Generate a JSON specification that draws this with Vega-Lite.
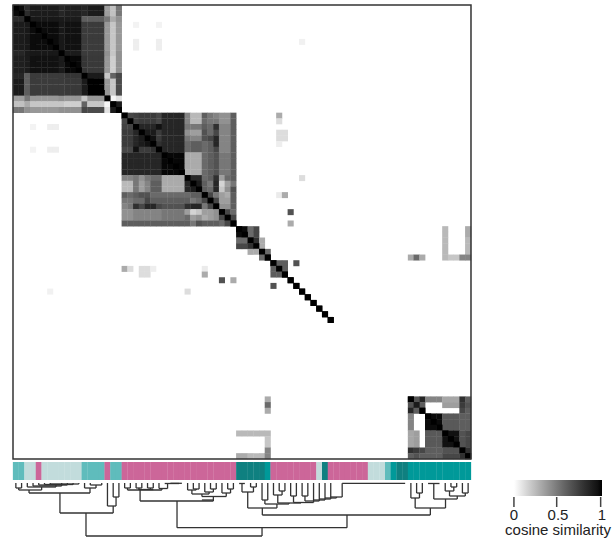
{"$schema":"https://vega.github.io/schema/vega-lite/v6.json","width":616,"height":540,"padding":0,"autosize":"none","background":"white","config":{"view":{"stroke":null}},"resolve":{"scale":{"y":"independent"}},
"datasets":{"heat":[
{"r":0,"c":0,"v":1},{"r":0,"c":1,"v":0.97},{"r":0,"c":2,"v":0.82},{"r":0,"c":3,"v":0.9},{"r":0,"c":4,"v":0.9},{"r":0,"c":5,"v":0.9},{"r":0,"c":6,"v":0.9},{"r":0,"c":7,"v":0.9},{"r":0,"c":8,"v":0.85},{"r":0,"c":9,"v":0.88},{"r":0,"c":10,"v":0.88},{"r":0,"c":11,"v":0.88},{"r":0,"c":12,"v":0.85},{"r":0,"c":13,"v":0.9},{"r":0,"c":14,"v":0.9},{"r":0,"c":15,"v":0.9},{"r":0,"c":16,"v":0.35},{"r":0,"c":17,"v":0.22},{"r":0,"c":18,"v":0.5},
{"r":1,"c":1,"v":1},{"r":1,"c":2,"v":0.82},{"r":1,"c":3,"v":0.9},{"r":1,"c":4,"v":0.9},{"r":1,"c":5,"v":0.9},{"r":1,"c":6,"v":0.9},{"r":1,"c":7,"v":0.9},{"r":1,"c":8,"v":0.85},{"r":1,"c":9,"v":0.88},{"r":1,"c":10,"v":0.88},{"r":1,"c":11,"v":0.88},{"r":1,"c":12,"v":0.85},{"r":1,"c":13,"v":0.9},{"r":1,"c":14,"v":0.9},{"r":1,"c":15,"v":0.9},{"r":1,"c":16,"v":0.35},{"r":1,"c":17,"v":0.22},{"r":1,"c":18,"v":0.5},
{"r":2,"c":2,"v":1},{"r":2,"c":3,"v":0.92},{"r":2,"c":4,"v":0.92},{"r":2,"c":5,"v":0.92},{"r":2,"c":6,"v":0.92},{"r":2,"c":7,"v":0.92},{"r":2,"c":8,"v":0.9},{"r":2,"c":9,"v":0.9},{"r":2,"c":10,"v":0.9},{"r":2,"c":11,"v":0.9},{"r":2,"c":12,"v":0.6},{"r":2,"c":13,"v":0.6},{"r":2,"c":14,"v":0.6},{"r":2,"c":15,"v":0.6},{"r":2,"c":16,"v":0.5},{"r":2,"c":17,"v":0.3},{"r":2,"c":18,"v":0.4},
{"r":3,"c":3,"v":1},{"r":3,"c":4,"v":0.97},{"r":3,"c":5,"v":0.97},{"r":3,"c":6,"v":0.97},{"r":3,"c":7,"v":0.97},{"r":3,"c":8,"v":0.92},{"r":3,"c":9,"v":0.95},{"r":3,"c":10,"v":0.95},{"r":3,"c":11,"v":0.95},{"r":3,"c":12,"v":0.75},{"r":3,"c":13,"v":0.75},{"r":3,"c":14,"v":0.75},{"r":3,"c":15,"v":0.75},{"r":3,"c":16,"v":0.37},{"r":3,"c":17,"v":0.2},{"r":3,"c":18,"v":0.37},
{"r":4,"c":4,"v":1},{"r":4,"c":5,"v":0.97},{"r":4,"c":6,"v":0.97},{"r":4,"c":7,"v":0.97},{"r":4,"c":8,"v":0.92},{"r":4,"c":9,"v":0.95},{"r":4,"c":10,"v":0.95},{"r":4,"c":11,"v":0.95},{"r":4,"c":12,"v":0.75},{"r":4,"c":13,"v":0.75},{"r":4,"c":14,"v":0.75},{"r":4,"c":15,"v":0.75},{"r":4,"c":16,"v":0.37},{"r":4,"c":17,"v":0.2},{"r":4,"c":18,"v":0.37},
{"r":5,"c":5,"v":1},{"r":5,"c":6,"v":0.97},{"r":5,"c":7,"v":0.97},{"r":5,"c":8,"v":0.92},{"r":5,"c":9,"v":0.95},{"r":5,"c":10,"v":0.95},{"r":5,"c":11,"v":0.95},{"r":5,"c":12,"v":0.75},{"r":5,"c":13,"v":0.75},{"r":5,"c":14,"v":0.75},{"r":5,"c":15,"v":0.75},{"r":5,"c":16,"v":0.37},{"r":5,"c":17,"v":0.2},{"r":5,"c":18,"v":0.37},
{"r":6,"c":6,"v":1},{"r":6,"c":7,"v":0.97},{"r":6,"c":8,"v":0.92},{"r":6,"c":9,"v":0.95},{"r":6,"c":10,"v":0.95},{"r":6,"c":11,"v":0.95},{"r":6,"c":12,"v":0.75},{"r":6,"c":13,"v":0.75},{"r":6,"c":14,"v":0.75},{"r":6,"c":15,"v":0.75},{"r":6,"c":16,"v":0.37},{"r":6,"c":17,"v":0.2},{"r":6,"c":18,"v":0.37},
{"r":7,"c":7,"v":1},{"r":7,"c":8,"v":0.92},{"r":7,"c":9,"v":0.95},{"r":7,"c":10,"v":0.95},{"r":7,"c":11,"v":0.95},{"r":7,"c":12,"v":0.75},{"r":7,"c":13,"v":0.75},{"r":7,"c":14,"v":0.75},{"r":7,"c":15,"v":0.75},{"r":7,"c":16,"v":0.37},{"r":7,"c":17,"v":0.2},{"r":7,"c":18,"v":0.37},
{"r":8,"c":8,"v":1},{"r":8,"c":9,"v":0.9},{"r":8,"c":10,"v":0.9},{"r":8,"c":11,"v":0.9},{"r":8,"c":12,"v":0.75},{"r":8,"c":13,"v":0.75},{"r":8,"c":14,"v":0.75},{"r":8,"c":15,"v":0.75},{"r":8,"c":16,"v":0.4},{"r":8,"c":17,"v":0.2},{"r":8,"c":18,"v":0.4},
{"r":9,"c":9,"v":1},{"r":9,"c":10,"v":0.98},{"r":9,"c":11,"v":0.98},{"r":9,"c":12,"v":0.78},{"r":9,"c":13,"v":0.76},{"r":9,"c":14,"v":0.76},{"r":9,"c":15,"v":0.76},{"r":9,"c":16,"v":0.37},{"r":9,"c":17,"v":0.17},{"r":9,"c":18,"v":0.4},
{"r":10,"c":10,"v":1},{"r":10,"c":11,"v":0.98},{"r":10,"c":12,"v":0.78},{"r":10,"c":13,"v":0.76},{"r":10,"c":14,"v":0.76},{"r":10,"c":15,"v":0.76},{"r":10,"c":16,"v":0.37},{"r":10,"c":17,"v":0.17},{"r":10,"c":18,"v":0.4},
{"r":11,"c":11,"v":1},{"r":11,"c":12,"v":0.78},{"r":11,"c":13,"v":0.76},{"r":11,"c":14,"v":0.76},{"r":11,"c":15,"v":0.76},{"r":11,"c":16,"v":0.37},{"r":11,"c":17,"v":0.17},{"r":11,"c":18,"v":0.4},
{"r":12,"c":12,"v":1},{"r":12,"c":13,"v":0.9},{"r":12,"c":14,"v":0.9},{"r":12,"c":15,"v":0.9},{"r":12,"c":16,"v":0.2},{"r":12,"c":17,"v":0.58},{"r":12,"c":18,"v":0.7},
{"r":13,"c":13,"v":1},{"r":13,"c":14,"v":1},{"r":13,"c":15,"v":1},{"r":13,"c":16,"v":0.37},{"r":13,"c":17,"v":0.2},{"r":13,"c":18,"v":0.68},
{"r":14,"c":14,"v":1},{"r":14,"c":15,"v":1},{"r":14,"c":16,"v":0.37},{"r":14,"c":17,"v":0.2},{"r":14,"c":18,"v":0.68},
{"r":15,"c":15,"v":1},{"r":15,"c":16,"v":0.37},{"r":15,"c":17,"v":0.2},{"r":15,"c":18,"v":0.68},
{"r":16,"c":16,"v":1},{"r":16,"c":17,"v":0.03},{"r":16,"c":18,"v":0.1},{"r":17,"c":17,"v":1},{"r":17,"c":18,"v":0.9},{"r":18,"c":18,"v":1},
{"r":19,"c":19,"v":1},{"r":19,"c":20,"v":0.7},{"r":19,"c":21,"v":0.72},{"r":19,"c":22,"v":0.75},{"r":19,"c":23,"v":0.75},{"r":19,"c":24,"v":0.75},{"r":19,"c":25,"v":0.7},{"r":19,"c":26,"v":0.85},{"r":19,"c":27,"v":0.85},{"r":19,"c":28,"v":0.85},{"r":19,"c":29,"v":0.85},{"r":19,"c":30,"v":0.45},{"r":19,"c":31,"v":0.25},{"r":19,"c":32,"v":0.25},{"r":19,"c":33,"v":0.6},{"r":19,"c":34,"v":0.5},{"r":19,"c":35,"v":0.45},{"r":19,"c":36,"v":0.4},{"r":19,"c":37,"v":0.4},{"r":19,"c":38,"v":0.6},
{"r":20,"c":20,"v":1},{"r":20,"c":21,"v":0.72},{"r":20,"c":22,"v":0.75},{"r":20,"c":23,"v":0.75},{"r":20,"c":24,"v":0.75},{"r":20,"c":25,"v":0.7},{"r":20,"c":26,"v":0.85},{"r":20,"c":27,"v":0.85},{"r":20,"c":28,"v":0.85},{"r":20,"c":29,"v":0.85},{"r":20,"c":30,"v":0.45},{"r":20,"c":31,"v":0.25},{"r":20,"c":32,"v":0.25},{"r":20,"c":33,"v":0.55},{"r":20,"c":34,"v":0.5},{"r":20,"c":35,"v":0.5},{"r":20,"c":36,"v":0.4},{"r":20,"c":37,"v":0.4},{"r":20,"c":38,"v":0.6},
{"r":21,"c":21,"v":1},{"r":21,"c":22,"v":0.85},{"r":21,"c":23,"v":0.85},{"r":21,"c":24,"v":0.85},{"r":21,"c":25,"v":0.95},{"r":21,"c":26,"v":0.85},{"r":21,"c":27,"v":0.85},{"r":21,"c":28,"v":0.85},{"r":21,"c":29,"v":0.85},{"r":21,"c":30,"v":0.5},{"r":21,"c":31,"v":0.5},{"r":21,"c":32,"v":0.5},{"r":21,"c":33,"v":0.6},{"r":21,"c":34,"v":0.55},{"r":21,"c":35,"v":0.8},{"r":21,"c":36,"v":0.45},{"r":21,"c":37,"v":0.45},{"r":21,"c":38,"v":0.6},
{"r":22,"c":22,"v":1},{"r":22,"c":23,"v":0.9},{"r":22,"c":24,"v":0.9},{"r":22,"c":25,"v":0.75},{"r":22,"c":26,"v":0.85},{"r":22,"c":27,"v":0.85},{"r":22,"c":28,"v":0.85},{"r":22,"c":29,"v":0.85},{"r":22,"c":30,"v":0.4},{"r":22,"c":31,"v":0.35},{"r":22,"c":32,"v":0.35},{"r":22,"c":33,"v":0.65},{"r":22,"c":34,"v":0.55},{"r":22,"c":35,"v":0.7},{"r":22,"c":36,"v":0.45},{"r":22,"c":37,"v":0.45},{"r":22,"c":38,"v":0.6},
{"r":23,"c":23,"v":1},{"r":23,"c":24,"v":0.95},{"r":23,"c":25,"v":0.75},{"r":23,"c":26,"v":0.85},{"r":23,"c":27,"v":0.85},{"r":23,"c":28,"v":0.85},{"r":23,"c":29,"v":0.85},{"r":23,"c":30,"v":0.5},{"r":23,"c":31,"v":0.45},{"r":23,"c":32,"v":0.45},{"r":23,"c":33,"v":0.65},{"r":23,"c":34,"v":0.7},{"r":23,"c":35,"v":0.85},{"r":23,"c":36,"v":0.45},{"r":23,"c":37,"v":0.45},{"r":23,"c":38,"v":0.6},
{"r":24,"c":24,"v":1},{"r":24,"c":25,"v":0.8},{"r":24,"c":26,"v":0.85},{"r":24,"c":27,"v":0.85},{"r":24,"c":28,"v":0.85},{"r":24,"c":29,"v":0.85},{"r":24,"c":30,"v":0.55},{"r":24,"c":31,"v":0.6},{"r":24,"c":32,"v":0.6},{"r":24,"c":33,"v":0.55},{"r":24,"c":34,"v":0.6},{"r":24,"c":35,"v":0.85},{"r":24,"c":36,"v":0.45},{"r":24,"c":37,"v":0.45},{"r":24,"c":38,"v":0.6},
{"r":25,"c":25,"v":1},{"r":25,"c":26,"v":0.85},{"r":25,"c":27,"v":0.85},{"r":25,"c":28,"v":0.85},{"r":25,"c":29,"v":0.85},{"r":25,"c":30,"v":0.55},{"r":25,"c":31,"v":0.6},{"r":25,"c":32,"v":0.6},{"r":25,"c":33,"v":0.55},{"r":25,"c":34,"v":0.6},{"r":25,"c":35,"v":0.7},{"r":25,"c":36,"v":0.45},{"r":25,"c":37,"v":0.45},{"r":25,"c":38,"v":0.6},
{"r":26,"c":26,"v":1},{"r":26,"c":27,"v":0.98},{"r":26,"c":28,"v":0.98},{"r":26,"c":29,"v":0.98},{"r":26,"c":30,"v":0.3},{"r":26,"c":31,"v":0.3},{"r":26,"c":32,"v":0.3},{"r":26,"c":33,"v":0.55},{"r":26,"c":34,"v":0.6},{"r":26,"c":35,"v":0.65},{"r":26,"c":36,"v":0.5},{"r":26,"c":37,"v":0.5},{"r":26,"c":38,"v":0.6},
{"r":27,"c":27,"v":1},{"r":27,"c":28,"v":0.98},{"r":27,"c":29,"v":0.98},{"r":27,"c":30,"v":0.3},{"r":27,"c":31,"v":0.3},{"r":27,"c":32,"v":0.3},{"r":27,"c":33,"v":0.55},{"r":27,"c":34,"v":0.6},{"r":27,"c":35,"v":0.65},{"r":27,"c":36,"v":0.5},{"r":27,"c":37,"v":0.5},{"r":27,"c":38,"v":0.6},
{"r":28,"c":28,"v":1},{"r":28,"c":29,"v":0.98},{"r":28,"c":30,"v":0.3},{"r":28,"c":31,"v":0.3},{"r":28,"c":32,"v":0.3},{"r":28,"c":33,"v":0.55},{"r":28,"c":34,"v":0.6},{"r":28,"c":35,"v":0.65},{"r":28,"c":36,"v":0.5},{"r":28,"c":37,"v":0.5},{"r":28,"c":38,"v":0.6},
{"r":29,"c":29,"v":1},{"r":29,"c":30,"v":0.3},{"r":29,"c":31,"v":0.3},{"r":29,"c":32,"v":0.3},{"r":29,"c":33,"v":0.55},{"r":29,"c":34,"v":0.6},{"r":29,"c":35,"v":0.65},{"r":29,"c":36,"v":0.5},{"r":29,"c":37,"v":0.5},{"r":29,"c":38,"v":0.6},
{"r":30,"c":30,"v":1},{"r":30,"c":31,"v":0.85},{"r":30,"c":32,"v":0.85},{"r":30,"c":33,"v":0.55},{"r":30,"c":34,"v":0.6},{"r":30,"c":35,"v":0.8},{"r":30,"c":36,"v":0.35},{"r":30,"c":37,"v":0.55},{"r":30,"c":38,"v":0.6},
{"r":31,"c":31,"v":1},{"r":31,"c":32,"v":0.9},{"r":31,"c":33,"v":0.6},{"r":31,"c":34,"v":0.5},{"r":31,"c":35,"v":0.85},{"r":31,"c":36,"v":0.15},{"r":31,"c":37,"v":0.35},{"r":31,"c":38,"v":0.5},
{"r":32,"c":32,"v":1},{"r":32,"c":33,"v":0.6},{"r":32,"c":34,"v":0.55},{"r":32,"c":35,"v":0.85},{"r":32,"c":36,"v":0.2},{"r":32,"c":37,"v":0.4},{"r":32,"c":38,"v":0.65},
{"r":33,"c":33,"v":1},{"r":33,"c":34,"v":0.7},{"r":33,"c":35,"v":0.5},{"r":33,"c":36,"v":0.35},{"r":33,"c":37,"v":0.3},{"r":33,"c":38,"v":0.6},
{"r":34,"c":34,"v":1},{"r":34,"c":35,"v":0.7},{"r":34,"c":36,"v":0.35},{"r":34,"c":37,"v":0.35},{"r":34,"c":38,"v":0.6},
{"r":35,"c":35,"v":1},{"r":35,"c":36,"v":0.4},{"r":35,"c":37,"v":0.4},{"r":35,"c":38,"v":0.6},
{"r":36,"c":36,"v":1},{"r":36,"c":37,"v":0.7},{"r":36,"c":38,"v":0.55},{"r":37,"c":37,"v":1},{"r":37,"c":38,"v":0.7},{"r":38,"c":38,"v":1},
{"r":39,"c":39,"v":1},{"r":39,"c":40,"v":0.97},{"r":39,"c":41,"v":0.55},{"r":39,"c":42,"v":0.7},{"r":40,"c":40,"v":1},{"r":40,"c":41,"v":0.55},{"r":40,"c":42,"v":0.7},{"r":41,"c":41,"v":1},{"r":41,"c":42,"v":0.8},{"r":41,"c":43,"v":0.3},{"r":42,"c":42,"v":1},{"r":42,"c":43,"v":0.3},{"r":43,"c":43,"v":1},{"r":43,"c":44,"v":0.55},{"r":44,"c":44,"v":1},
{"r":45,"c":45,"v":1},{"r":45,"c":46,"v":0.6},{"r":45,"c":47,"v":0.6},{"r":45,"c":49,"v":0.65},{"r":46,"c":46,"v":1},{"r":46,"c":47,"v":0.6},{"r":47,"c":47,"v":1},
{"r":48,"c":48,"v":1},{"r":49,"c":49,"v":1},{"r":50,"c":50,"v":1},{"r":51,"c":51,"v":1},{"r":52,"c":52,"v":1},{"r":53,"c":53,"v":1},{"r":54,"c":54,"v":1},{"r":55,"c":55,"v":1},
{"r":69,"c":69,"v":1},{"r":69,"c":70,"v":0.65},{"r":69,"c":71,"v":0.85},{"r":69,"c":72,"v":0.45},{"r":69,"c":73,"v":0.45},{"r":69,"c":74,"v":0.45},{"r":69,"c":75,"v":0.32},{"r":69,"c":76,"v":0.32},{"r":69,"c":77,"v":0.32},{"r":69,"c":78,"v":0.8},{"r":69,"c":79,"v":0.6},
{"r":70,"c":70,"v":0.9},{"r":70,"c":71,"v":0.6},{"r":70,"c":75,"v":0.35},{"r":70,"c":76,"v":0.35},{"r":70,"c":77,"v":0.35},{"r":70,"c":78,"v":0.75},{"r":70,"c":79,"v":0.65},
{"r":71,"c":71,"v":1},{"r":71,"c":78,"v":0.7},{"r":71,"c":79,"v":0.6},
{"r":72,"c":72,"v":1},{"r":72,"c":73,"v":0.97},{"r":72,"c":74,"v":0.97},{"r":72,"c":75,"v":0.62},{"r":72,"c":76,"v":0.62},{"r":72,"c":77,"v":0.62},{"r":72,"c":78,"v":0.6},{"r":72,"c":79,"v":0.6},
{"r":73,"c":73,"v":1},{"r":73,"c":74,"v":0.97},{"r":73,"c":75,"v":0.62},{"r":73,"c":76,"v":0.62},{"r":73,"c":77,"v":0.62},{"r":73,"c":78,"v":0.6},{"r":73,"c":79,"v":0.6},
{"r":74,"c":74,"v":1},{"r":74,"c":75,"v":0.62},{"r":74,"c":76,"v":0.62},{"r":74,"c":77,"v":0.62},{"r":74,"c":78,"v":0.6},{"r":74,"c":79,"v":0.6},
{"r":75,"c":75,"v":1},{"r":75,"c":76,"v":0.95},{"r":75,"c":77,"v":0.95},{"r":75,"c":78,"v":0.65},{"r":75,"c":79,"v":0.7},
{"r":76,"c":76,"v":1},{"r":76,"c":77,"v":0.95},{"r":76,"c":78,"v":0.65},{"r":76,"c":79,"v":0.7},
{"r":77,"c":77,"v":1},{"r":77,"c":78,"v":0.65},{"r":77,"c":79,"v":0.7},
{"r":78,"c":78,"v":1},{"r":78,"c":79,"v":0.8},{"r":79,"c":79,"v":1},
{"r":3,"c":21,"v":0.04},{"r":3,"c":25,"v":0.04},{"r":6,"c":21,"v":0.06},{"r":6,"c":25,"v":0.06},{"r":7,"c":21,"v":0.06},{"r":7,"c":25,"v":0.06},{"r":6,"c":50,"v":0.05},
{"r":19,"c":46,"v":0.3},{"r":20,"c":46,"v":0.12},{"r":22,"c":46,"v":0.12},{"r":22,"c":47,"v":0.12},{"r":23,"c":46,"v":0.12},{"r":23,"c":47,"v":0.12},{"r":24,"c":46,"v":0.06},{"r":30,"c":50,"v":0.12},{"r":33,"c":46,"v":0.07},{"r":33,"c":47,"v":0.3},{"r":36,"c":48,"v":0.65},{"r":38,"c":48,"v":0.3},
{"r":39,"c":75,"v":0.25},{"r":40,"c":75,"v":0.25},{"r":41,"c":75,"v":0.25},{"r":42,"c":75,"v":0.25},{"r":43,"c":75,"v":0.25},{"r":39,"c":79,"v":0.3},{"r":40,"c":79,"v":0.3},{"r":41,"c":79,"v":0.25},{"r":42,"c":79,"v":0.25},{"r":43,"c":79,"v":0.25},
{"r":44,"c":69,"v":0.3},{"r":44,"c":70,"v":0.55},{"r":44,"c":71,"v":0.3},{"r":44,"c":75,"v":0.25},{"r":44,"c":76,"v":0.2},{"r":44,"c":77,"v":0.2},{"r":44,"c":78,"v":0.45},{"r":44,"c":79,"v":0.45}
],
"strip":[{"c":0,"g":"mid"},{"c":1,"g":"mid"},{"c":2,"g":"pale"},{"c":3,"g":"pale"},{"c":4,"g":"pink"},{"c":5,"g":"pale"},{"c":6,"g":"pale"},{"c":7,"g":"pale"},{"c":8,"g":"pale"},{"c":9,"g":"pale"},{"c":10,"g":"pale"},{"c":11,"g":"pale"},{"c":12,"g":"mid"},{"c":13,"g":"mid"},{"c":14,"g":"mid"},{"c":15,"g":"mid"},{"c":16,"g":"pink"},{"c":17,"g":"mid"},{"c":18,"g":"mid"},{"c":19,"g":"pink"},{"c":20,"g":"pink"},{"c":21,"g":"pink"},{"c":22,"g":"pink"},{"c":23,"g":"pink"},{"c":24,"g":"pink"},{"c":25,"g":"pink"},{"c":26,"g":"pink"},{"c":27,"g":"pink"},{"c":28,"g":"pink"},{"c":29,"g":"pink"},{"c":30,"g":"pink"},{"c":31,"g":"pink"},{"c":32,"g":"pink"},{"c":33,"g":"pink"},{"c":34,"g":"pink"},{"c":35,"g":"pink"},{"c":36,"g":"pink"},{"c":37,"g":"pink"},{"c":38,"g":"pink"},{"c":39,"g":"dark"},{"c":40,"g":"dark"},{"c":41,"g":"dark"},{"c":42,"g":"dark"},{"c":43,"g":"dark"},{"c":44,"g":"teal"},{"c":45,"g":"pink"},{"c":46,"g":"pink"},{"c":47,"g":"pink"},{"c":48,"g":"pink"},{"c":49,"g":"pink"},{"c":50,"g":"pink"},{"c":51,"g":"pink"},{"c":52,"g":"pink"},{"c":53,"g":"pale"},{"c":54,"g":"dark"},{"c":55,"g":"pink"},{"c":56,"g":"pink"},{"c":57,"g":"pink"},{"c":58,"g":"pink"},{"c":59,"g":"pink"},{"c":60,"g":"pink"},{"c":61,"g":"pink"},{"c":62,"g":"pale"},{"c":63,"g":"pale"},{"c":64,"g":"pale"},{"c":65,"g":"mid"},{"c":66,"g":"teal"},{"c":67,"g":"dark"},{"c":68,"g":"dark"},{"c":69,"g":"teal"},{"c":70,"g":"teal"},{"c":71,"g":"teal"},{"c":72,"g":"teal"},{"c":73,"g":"teal"},{"c":74,"g":"teal"},{"c":75,"g":"teal"},{"c":76,"g":"teal"},{"c":77,"g":"teal"},{"c":78,"g":"teal"},{"c":79,"g":"teal"}],
"tree":[{"a":12.25,"b":43,"p":53,"q":53},{"a":12.25,"b":12.25,"p":30,"q":53},{"a":43,"b":43,"p":44.7,"q":53},{"a":7.7,"b":17,"p":30,"q":30},{"a":7.7,"b":7.7,"p":10,"q":30},{"a":17,"b":17,"p":23,"q":30},{"a":16,"b":17.5,"p":23,"q":23},{"a":16,"b":16,"p":0,"q":23},{"a":17.5,"b":17.5,"p":14,"q":23},{"a":17,"b":18,"p":14,"q":14},{"a":17,"b":17,"p":0,"q":14},{"a":18,"b":18,"p":0,"q":14},
{"a":2.3,"b":12.95,"p":10,"q":10},{"a":2.3,"b":2.3,"p":7,"q":10},{"a":12.95,"b":12.95,"p":5,"q":10},{"a":12,"b":14,"p":5,"q":5},{"a":12,"b":12,"p":0,"q":5},{"a":14,"b":14,"p":2,"q":5},{"a":13,"b":15,"p":2,"q":2},{"a":13,"b":13,"p":0,"q":2},{"a":15,"b":15,"p":0,"q":2},
{"a":0.5,"b":4.5,"p":7,"q":7},{"a":0.5,"b":0.5,"p":5,"q":7},{"a":4.5,"b":4.5,"p":4,"q":7},{"a":0,"b":1,"p":5,"q":5},{"a":0,"b":0,"p":0,"q":5},{"a":1,"b":1,"p":0,"q":5},{"a":2,"b":7,"p":4,"q":4},{"a":2,"b":2,"p":0,"q":4},{"a":7,"b":7,"p":2,"q":4},{"a":3,"b":8,"p":3,"q":3},{"a":3,"b":3,"p":0,"q":3},{"a":8,"b":8,"p":0,"q":3},{"a":4,"b":9,"p":2,"q":2},{"a":4,"b":4,"p":0,"q":2},{"a":9,"b":9,"p":0,"q":2},{"a":5,"b":10,"p":1.5,"q":1.5},{"a":5,"b":5,"p":0,"q":1.5},{"a":10,"b":10,"p":0,"q":1.5},{"a":6,"b":11,"p":1,"q":1},{"a":6,"b":6,"p":0,"q":1},{"a":11,"b":11,"p":0,"q":1},
{"a":28.15,"b":57.84,"p":44.7,"q":44.7},{"a":28.15,"b":28.15,"p":18,"q":44.7},{"a":57.84,"b":57.84,"p":32,"q":44.7},{"a":21.7,"b":34.5,"p":18,"q":18},{"a":21.7,"b":21.7,"p":7,"q":18},{"a":34.5,"b":34.5,"p":13.5,"q":18},
{"a":19.5,"b":25.5,"p":7,"q":7},{"a":21.5,"b":24,"p":6.5,"q":6.5},{"a":19,"b":20,"p":5,"q":5},{"a":19,"b":19,"p":0,"q":5},{"a":20,"b":20,"p":0,"q":5},{"a":19.5,"b":19.5,"p":5,"q":7},{"a":21,"b":22,"p":5,"q":5},{"a":21,"b":21,"p":0,"q":5},{"a":22,"b":22,"p":0,"q":5},{"a":21.5,"b":21.5,"p":5,"q":7},{"a":23,"b":24,"p":5,"q":5},{"a":23,"b":23,"p":0,"q":5},{"a":24,"b":24,"p":0,"q":5},{"a":23.5,"b":23.5,"p":5,"q":6.5},{"a":25.5,"b":25.5,"p":5.5,"q":7},{"a":25,"b":26.5,"p":5.5,"q":5.5},{"a":25,"b":25,"p":0,"q":5.5},{"a":26.5,"b":26.5,"p":0.5,"q":5.5},{"a":26,"b":28.5,"p":0.5,"q":0.5},{"a":27,"b":29,"p":0.3,"q":0.3},
{"a":32.5,"b":36.75,"p":13.5,"q":13.5},{"a":32.5,"b":32.5,"p":11,"q":13.5},{"a":36.75,"b":36.75,"p":10,"q":13.5},{"a":30.75,"b":33.75,"p":11,"q":11},{"a":30.75,"b":30.75,"p":7,"q":11},{"a":33.75,"b":33.75,"p":9,"q":11},{"a":30,"b":31.5,"p":7,"q":7},{"a":30,"b":30,"p":0,"q":7},{"a":31.5,"b":31.5,"p":6,"q":7},{"a":31,"b":32,"p":6,"q":6},{"a":31,"b":31,"p":0,"q":6},{"a":32,"b":32,"p":0,"q":6},{"a":33,"b":34.5,"p":9,"q":9},{"a":33,"b":33,"p":0,"q":9},{"a":34.5,"b":34.5,"p":6,"q":9},{"a":34,"b":35,"p":6,"q":6},{"a":34,"b":34,"p":0,"q":6},{"a":35,"b":35,"p":0,"q":6},{"a":36,"b":37.5,"p":10,"q":10},{"a":36,"b":36,"p":0,"q":10},{"a":37.5,"b":37.5,"p":6,"q":10},{"a":37,"b":38,"p":6,"q":6},{"a":37,"b":37,"p":0,"q":6},{"a":38,"b":38,"p":0,"q":6},{"a":32.5,"b":34.5,"p":17,"q":17},
{"a":43.05,"b":72.4,"p":32,"q":32},{"a":43.05,"b":43.05,"p":25,"q":32},{"a":72.4,"b":72.4,"p":25,"q":32},{"a":40.5,"b":45.6,"p":25,"q":25},{"a":40.5,"b":40.5,"p":9,"q":25},{"a":45.6,"b":45.6,"p":21,"q":25},{"a":39.5,"b":41.5,"p":9,"q":9},{"a":39.5,"b":39.5,"p":0.5,"q":9},{"a":39,"b":40,"p":0.5,"q":0.5},{"a":41.5,"b":41.5,"p":4,"q":9},{"a":41,"b":42,"p":4,"q":4},{"a":41,"b":41,"p":0,"q":4},{"a":42,"b":42,"p":0,"q":4},
{"a":43.5,"b":47.7,"p":21,"q":21},{"a":43.5,"b":43.5,"p":17,"q":21},{"a":43,"b":44,"p":17,"q":17},{"a":43,"b":43,"p":0,"q":17},{"a":44,"b":44,"p":0,"q":17},{"a":47.7,"b":47.7,"p":20,"q":21},{"a":45.75,"b":49.8,"p":20,"q":20},{"a":45.75,"b":45.75,"p":12,"q":20},{"a":49.8,"b":49.8,"p":19.5,"q":20},{"a":45,"b":46.5,"p":12,"q":12},{"a":45,"b":45,"p":0,"q":12},{"a":46.5,"b":46.5,"p":8,"q":12},{"a":46,"b":47,"p":8,"q":8},{"a":46,"b":46,"p":0,"q":8},{"a":47,"b":47,"p":0,"q":8},
{"a":48.5,"b":52,"p":19.5,"q":19.5},{"a":48.5,"b":48.5,"p":13,"q":19.5},{"a":48,"b":49,"p":13,"q":13},{"a":48,"b":48,"p":0,"q":13},{"a":49,"b":49,"p":0,"q":13},{"a":52,"b":52,"p":0,"q":19.5},{"a":50.5,"b":53,"p":18,"q":18},{"a":50.5,"b":50.5,"p":13,"q":18},{"a":50,"b":51,"p":13,"q":13},{"a":50,"b":50,"p":0,"q":13},{"a":51,"b":51,"p":0,"q":13},{"a":52,"b":54,"p":17,"q":17},{"a":53,"b":53,"p":0,"q":18},{"a":53,"b":55,"p":16,"q":16},{"a":54,"b":54,"p":0,"q":17},{"a":54,"b":56,"p":15,"q":15},{"a":55,"b":55,"p":0,"q":16},{"a":55,"b":57,"p":14,"q":14},{"a":57,"b":57,"p":0.3,"q":14},{"a":56,"b":56,"p":14,"q":15},{"a":57,"b":68,"p":0.3,"q":0.3},
{"a":69.75,"b":75.05,"p":25,"q":25},{"a":69.75,"b":69.75,"p":15,"q":25},{"a":75.05,"b":75.05,"p":16,"q":25},{"a":69,"b":70.5,"p":15,"q":15},{"a":69,"b":69,"p":0,"q":15},{"a":70.5,"b":70.5,"p":10,"q":15},{"a":70,"b":71,"p":10,"q":10},{"a":70,"b":70,"p":0,"q":10},{"a":71,"b":71,"p":0,"q":10},
{"a":73,"b":77.1,"p":16,"q":16},{"a":73,"b":73,"p":0.5,"q":16},{"a":72,"b":74,"p":0.5,"q":0.5},{"a":77.1,"b":77.1,"p":13,"q":16},{"a":75.75,"b":78.5,"p":13,"q":13},{"a":75.75,"b":75.75,"p":8,"q":13},{"a":78.5,"b":78.5,"p":10,"q":13},{"a":75,"b":76.5,"p":8,"q":8},{"a":75,"b":75,"p":0,"q":8},{"a":76.5,"b":76.5,"p":4,"q":8},{"a":76,"b":77,"p":4,"q":4},{"a":76,"b":76,"p":0,"q":4},{"a":77,"b":77,"p":0,"q":4},{"a":78,"b":79,"p":10,"q":10},{"a":78,"b":78,"p":0,"q":10},{"a":79,"b":79,"p":0,"q":10}],
"ticks":[{"a":87,"p":14,"q":24},{"a":94.47,"p":14,"q":24},{"a":102.15,"p":14,"q":24}],
"frame":[{"a":-0.5,"b":79.5,"p":-0.5,"q":79.5}]},
"layer":[
{"data":{"name":"heat"},"mark":{"type":"rect","width":6.1,"height":6},"encoding":{
"x":{"field":"c","type":"quantitative","axis":null,"scale":{"domain":[-2.771,104.83],"nice":false,"zero":false}},
"y":{"field":"r","type":"quantitative","axis":null,"scale":{"domain":[-1.381,93.773],"nice":false,"zero":false,"reverse":true}},
"color":{"field":"v","type":"quantitative","scale":{"domain":[0,1],"range":["#ffffff","#000000"]},"legend":{"orient":"none","legendX":505,"legendY":480,"padding":0,"direction":"horizontal","gradientLength":88,"gradientThickness":16,"gradientStrokeWidth":0,"title":"cosine similarity","titleOrient":"bottom","titleAnchor":"middle","titleFontWeight":"normal","titleFont":"Liberation Sans","titleFontSize":15,"titleColor":"#222222","titlePadding":0,"labelFont":"Liberation Sans","labelFontSize":15,"labelColor":"#222222","labelOffset":12,"values":[0,0.5,1],"format":".2~f","labelOverlap":false,"encode":{"labels":{"update":{"align":{"value":"center"}}}}}}}},
{"data":{"name":"heat"},"mark":{"type":"rect","width":6.1,"height":6},"encoding":{
"x":{"field":"r","type":"quantitative","axis":null,"scale":{"domain":[-2.771,104.83],"nice":false,"zero":false}},
"y":{"field":"c","type":"quantitative","axis":null,"scale":{"domain":[-1.381,93.773],"nice":false,"zero":false,"reverse":true}},
"color":{"field":"v","type":"quantitative","scale":{"domain":[0,1],"range":["#ffffff","#000000"]},"legend":null}}},
{"data":{"name":"frame"},"mark":{"type":"rect","fill":"transparent","stroke":"#333333","strokeWidth":1.5},"encoding":{
"x":{"field":"a","type":"quantitative","axis":null,"scale":{"domain":[-2.771,104.83],"nice":false,"zero":false}},"x2":{"field":"b"},
"y":{"field":"p","type":"quantitative","axis":null,"scale":{"domain":[-1.381,93.773],"nice":false,"zero":false,"reverse":true}},"y2":{"field":"q"}}},
{"data":{"name":"strip"},"mark":{"type":"rect","width":6},"encoding":{
"x":{"field":"c","type":"quantitative","axis":null,"scale":{"domain":[-2.771,104.83],"nice":false,"zero":false}},
"y":{"datum":80.03,"type":"quantitative","axis":null,"scale":{"domain":[-1.381,93.773],"nice":false,"zero":false,"reverse":true}},"y2":{"datum":83.2},
"fill":{"field":"g","type":"nominal","legend":null,"scale":{"domain":["mid","pale","pink","dark","teal"],"range":["#5fbcbc","#c2dcdc","#cc6699","#0f8080","#009999"]}}}},
{"data":{"name":"tree"},"mark":{"type":"rule","stroke":"#333333","strokeWidth":1.3},"encoding":{
"x":{"field":"a","type":"quantitative","axis":null,"scale":{"domain":[-2.771,104.83],"nice":false,"zero":false}},"x2":{"field":"b"},
"y":{"field":"p","type":"quantitative","axis":null,"scale":{"domain":[-483,57],"nice":false,"zero":false,"reverse":true}},"y2":{"field":"q"}}},
{"data":{"name":"ticks"},"mark":{"type":"rule","stroke":"#444444","strokeWidth":1.5},"encoding":{
"x":{"field":"a","type":"quantitative","axis":null,"scale":{"domain":[-2.771,104.83],"nice":false,"zero":false}},
"y":{"field":"p","type":"quantitative","axis":null,"scale":{"domain":[-483,57],"nice":false,"zero":false,"reverse":true}},"y2":{"field":"q"}}}
]}
